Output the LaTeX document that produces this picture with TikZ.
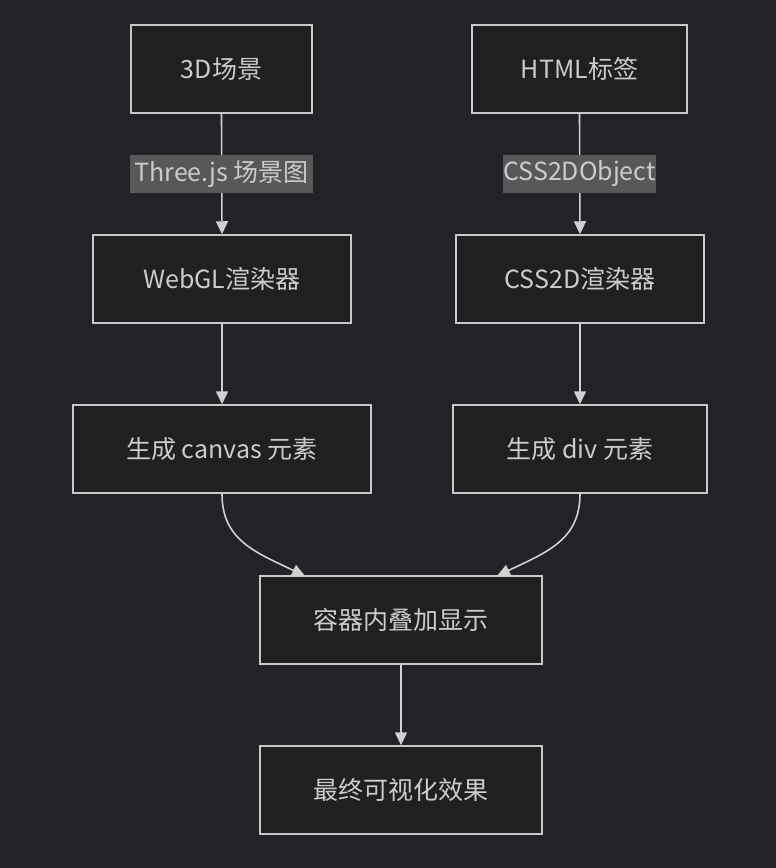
\documentclass[tikz,border=0pt]{standalone}
\usepackage{fontspec}
\setmainfont{Noto Sans CJK SC}
\usetikzlibrary{arrows.meta}
\definecolor{bgc}{HTML}{212328}
\definecolor{boxfill}{HTML}{1F2020}
\definecolor{boxline}{HTML}{C8C8C8}
\definecolor{edgec}{HTML}{D0D0D0}
\definecolor{txtc}{HTML}{CCCCCC}
\definecolor{lblbg}{HTML}{585858}
\tikzset{
  box/.style={draw=boxline, fill=boxfill, line width=1.5pt, text=txtc,
    minimum height=88pt, inner sep=0pt, font=\fontsize{25pt}{29pt}\selectfont},
  lbl/.style={fill=lblbg, text=txtc, minimum height=38pt, inner sep=0pt,
    font=\fontsize{25pt}{29pt}\selectfont},
  edge/.style={draw=edgec, line width=1.6pt, -{Triangle[length=13pt,width=12pt]}},
}
\begin{document}
\begin{tikzpicture}[x=1pt,y=-1pt]
\fill[bgc] (0,0) rectangle (776,868);
\useasboundingbox (0,0) rectangle (776,868);
\node[box, minimum width=181pt] (a) at (221.5,69) {3D场景};
\node[box, minimum width=215pt] (b) at (579.5,69) {HTML标签};
\node[box, minimum width=258pt] (c) at (222,279) {WebGL渲染器};
\node[box, minimum width=248pt] (d) at (580,279) {CSS2D渲染器};
\node[box, minimum width=298pt] (e) at (222,449) {生成 canvas 元素};
\node[box, minimum width=254pt] (f) at (580,449) {生成 div 元素};
\node[box, minimum width=282pt] (g) at (401,620) {容器内叠加显示};
\node[box, minimum width=282pt] (h) at (401,790) {最终可视化效果};
\coordinate (gl) at (305,576);
\coordinate (gr) at (497,576);
\draw[edge] (a.south) -- (c.north);
\draw[edge] (b.south) -- (d.north);
\node[lbl, minimum width=183pt] (la) at (221.5,174) {Three.js 场景图};
\node[lbl, minimum width=149pt] (lb) at (579.5,174) {CSS2DObject};
\draw[edge] (c.south) -- (e.north);
\draw[edge] (d.south) -- (f.north);
\draw[edge] (e.south) .. controls (222,540) and (255,552) .. (gl);
\draw[edge] (f.south) .. controls (580,540) and (547,552) .. (gr);
\draw[edge] (g.south) -- (h.north);
\end{tikzpicture}
\end{document}
